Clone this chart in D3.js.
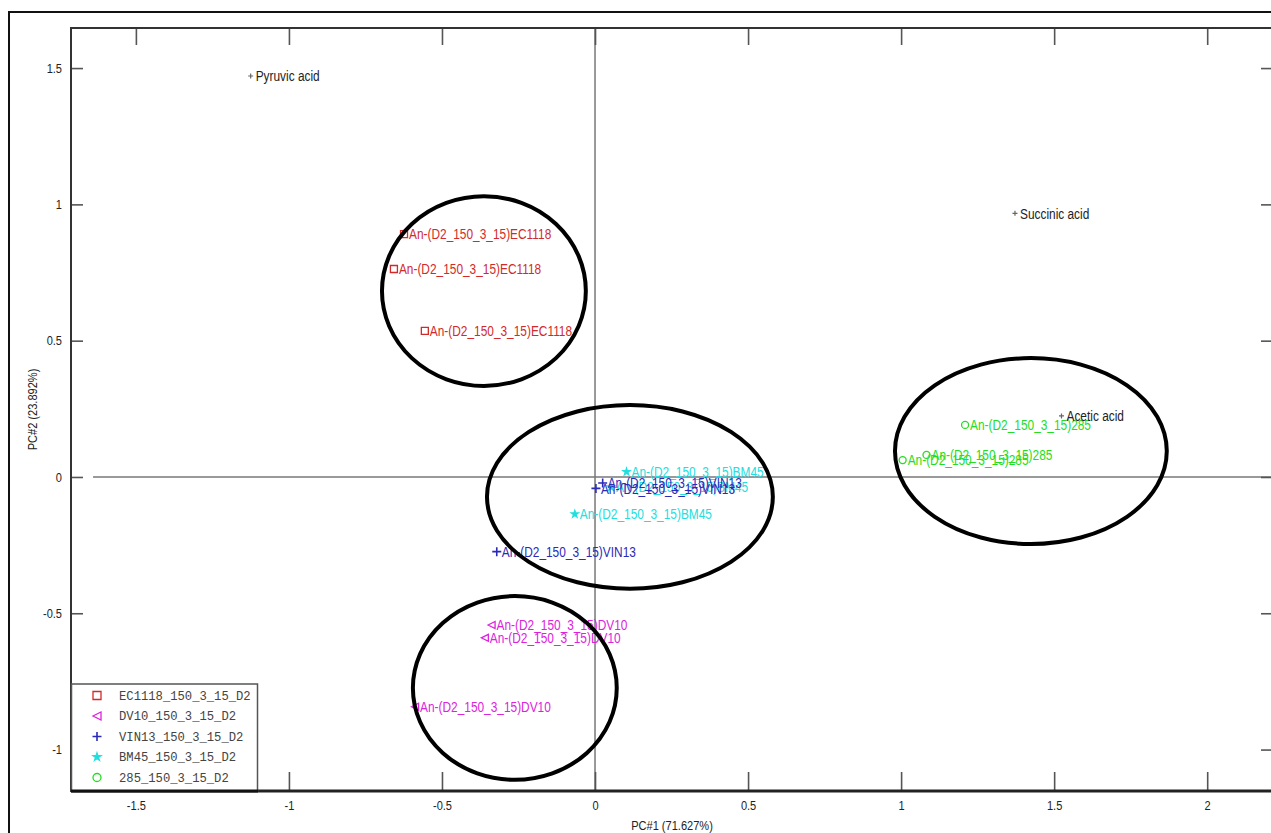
<!DOCTYPE html>
<html><head><meta charset="utf-8">
<script src="https://cdn.jsdelivr.net/npm/d3@7"></script>
<style>
html,body{margin:0;padding:0;background:#fff;}
svg{display:block;}
.tick text{font-family:"Liberation Sans",Arial,sans-serif;font-size:13.5px;fill:#222;}
</style></head><body>
<svg id="chart" width="1271" height="833"></svg>
<script>
// Sample scores on the first two principal components
const strainNames = ["EC1118_150_3_15_D2","DV10_150_3_15_D2","VIN13_150_3_15_D2","BM45_150_3_15_D2","285_150_3_15_D2"];
const sampleLabels = ["An-(D2_150_3_15)EC1118","An-(D2_150_3_15)DV10","An-(D2_150_3_15)VIN13","An-(D2_150_3_15)BM45","An-(D2_150_3_15)285"];
const strainColors = ["#d22a2a","#dd22dd","#2a2ab8","#22dede","#22dd22"];
const strainMarkers = ["square","triangleLeft","plus","star","circle"];

const ec1118PC1 = [-0.624,-0.657,-0.556];
const ec1118PC2 = [0.891,0.763,0.536];
const dv10PC1 = [-0.338,-0.360,-0.588];
const dv10PC2 = [-0.543,-0.590,-0.843];
const vin13PC1 = [-0.321,0.003,0.025];
const vin13PC2 = [-0.274,-0.042,-0.022];
const bm45PC1 = [0.103,0.052,-0.066];
const bm45PC2 = [0.019,-0.037,-0.136];
const s285PC1 = [1.209,1.005,1.083];
const s285PC2 = [0.191,0.062,0.081];

// Variable loadings
const acidNames = ["Pyruvic acid","Succinic acid","Acetic acid"];
const acidPC1 = [-1.125,1.372,1.524];
const acidPC2 = [1.471,0.967,0.224];

// Group outlines: centre and half-axes in PC units
const groupCX = [-0.363,0.114,1.424,-0.262];
const groupCY = [0.682,-0.073,0.095,-0.774];
const groupRX = [0.333,0.467,0.444,0.333];
const groupRY = [0.348,0.337,0.341,0.337];

const pc1Ticks = [-1.5,-1,-0.5,0,0.5,1,1.5,2];
const pc2Ticks = [-1,-0.5,0,0.5,1,1.5];
const pc1Title = "PC#1 (71.627%)";
const pc2Title = "PC#2 (23.892%)";

const scoreSeries = [
  {pc1: ec1118PC1, pc2: ec1118PC2},
  {pc1: dv10PC1, pc2: dv10PC2},
  {pc1: vin13PC1, pc2: vin13PC2},
  {pc1: bm45PC1, pc2: bm45PC2},
  {pc1: s285PC1, pc2: s285PC2}
].map((s, i) => ({
  name: strainNames[i], label: sampleLabels[i], color: strainColors[i], marker: strainMarkers[i],
  points: s.pc1.map((v, j) => ({x: v, y: s.pc2[j]}))
}));

const W = 1271, H = 833;
const plot = {left: 71, top: 28, right: 1273, bottom: 791};
const narrow = 0.82;  // horizontal squeeze for the condensed lettering
const sansFont = '"Liberation Sans",Arial,sans-serif';

const svg = d3.select("#chart");
svg.append("rect").attr("width", W).attr("height", H).attr("fill", "#fff");

// outer figure frame
svg.append("rect").attr("x", 9).attr("y", 12).attr("width", 1400).attr("height", 1000)
  .attr("fill", "none").attr("stroke", "#111").attr("stroke-width", 2);

const x = d3.scaleLinear().domain([-1.712, 2.215]).range([plot.left, plot.right]);
const y = d3.scaleLinear().domain([-1.152, 1.647]).range([plot.bottom, plot.top]);

// zero reference lines
svg.append("line").attr("x1", x(0)).attr("x2", x(0)).attr("y1", plot.top).attr("y2", plot.bottom)
  .attr("stroke", "#777").attr("stroke-width", 1.5);
svg.append("line").attr("x1", x(-1.64)).attr("x2", plot.right).attr("y1", y(0)).attr("y2", y(0))
  .attr("stroke", "#777").attr("stroke-width", 1.5);

// axes with inward ticks
const tickFmt = d => String(d);
const gB = svg.append("g").attr("transform", `translate(0,${plot.bottom})`)
  .call(d3.axisBottom(x).tickValues(pc1Ticks).tickFormat(tickFmt).tickSizeInner(-19).tickSizeOuter(0).tickPadding(9));
const gT = svg.append("g").attr("transform", `translate(0,${plot.top})`)
  .call(d3.axisTop(x).tickValues(pc1Ticks).tickFormat("").tickSizeInner(-17).tickSizeOuter(0));
const gL = svg.append("g").attr("transform", `translate(${plot.left},0)`)
  .call(d3.axisLeft(y).tickValues(pc2Ticks).tickFormat(tickFmt).tickSizeInner(-12).tickSizeOuter(0).tickPadding(9));
const gR = svg.append("g").attr("transform", `translate(${plot.right},0)`)
  .call(d3.axisRight(y).tickValues(pc2Ticks).tickFormat("").tickSizeInner(-12).tickSizeOuter(0));
[gB, gT, gL, gR].forEach(g => {
  g.select(".domain").remove();
  g.selectAll(".tick line").attr("stroke", "#555").attr("stroke-width", 1.6);
});
// condense the tick numerals
gB.selectAll(".tick text").attr("transform", `scale(${narrow},1)`);
gL.selectAll(".tick text").each(function () {
  const t = d3.select(this);
  t.attr("x", +t.attr("x") / narrow).attr("transform", `scale(${narrow},1)`);
});

// plot frame
svg.append("rect").attr("x", plot.left).attr("y", plot.top)
  .attr("width", plot.right - plot.left).attr("height", plot.bottom - plot.top)
  .attr("fill", "none").attr("stroke", "#333").attr("stroke-width", 2);
svg.append("line").attr("x1", plot.left).attr("x2", plot.right).attr("y1", plot.bottom).attr("y2", plot.bottom)
  .attr("stroke", "#222").attr("stroke-width", 3);

// axis titles
svg.append("g").attr("transform", `translate(${(plot.left + plot.right) / 2},830) scale(${narrow},1)`)
  .append("text").attr("text-anchor", "middle").attr("font-family", sansFont)
  .attr("font-size", 13.5).attr("fill", "#222").text(pc1Title);
svg.append("g").attr("transform", `translate(37,${(plot.top + plot.bottom) / 2}) rotate(-90) scale(${narrow},1)`)
  .append("text").attr("text-anchor", "middle").attr("font-family", sansFont)
  .attr("font-size", 13.5).attr("fill", "#222").text(pc2Title);

// marker shapes
function markerPath(type, s) {
  const h = s / 2;
  switch (type) {
    case "square": return `M${-h},${-h}H${h}V${h}H${-h}Z`;
    case "triangleLeft": return `M${-h},0L${h},${-h}L${h},${h}Z`;
    case "plus": return `M${-h},0H${h}M0,${-h}V${h}`;
    case "circle": return d3.arc()({innerRadius: 0, outerRadius: h, startAngle: 0, endAngle: 2 * Math.PI});
    case "star": return d3.symbol(d3.symbolStar, s * s * 0.3)();
  }
}
function drawMarker(g, type, color, s) {
  g.append("path").attr("d", markerPath(type, s))
    .attr("fill", type === "star" ? color : "none")
    .attr("stroke", color).attr("stroke-width", type === "plus" ? 1.6 : 1.3);
}

function narrowText(g, str, color) {
  g.append("g").attr("transform", `translate(5,0) scale(${narrow},1)`)
    .append("text").attr("dy", "0.36em")
    .attr("font-family", sansFont).attr("font-size", 14.5).attr("fill", color)
    .text(str);
}

// draw order keeps the VIN13 labels above BM45
const drawOrder = [0, 1, 3, 2, 4];
drawOrder.forEach(i => {
  const s = scoreSeries[i];
  const g = svg.append("g");
  s.points.forEach(p => {
    const pg = g.append("g").attr("transform", `translate(${x(p.x)},${y(p.y)})`);
    drawMarker(pg, s.marker, s.color, s.marker === "plus" ? 9 : 7);
    narrowText(pg, s.label, s.color);
  });
});

// loadings
acidNames.forEach((name, i) => {
  const pg = svg.append("g").attr("transform", `translate(${x(acidPC1[i])},${y(acidPC2[i])})`);
  pg.append("path").attr("d", markerPath("plus", 5)).attr("stroke", "#666").attr("stroke-width", 1.2);
  narrowText(pg, name, "#222");
});

// group outlines
groupCX.forEach((cx, i) => {
  svg.append("ellipse")
    .attr("cx", x(cx)).attr("cy", y(groupCY[i]))
    .attr("rx", x(cx + groupRX[i]) - x(cx)).attr("ry", y(groupCY[i] - groupRY[i]) - y(groupCY[i]))
    .attr("fill", "none").attr("stroke", "#000").attr("stroke-width", 4);
});

// legend
const leg = svg.append("g");
leg.append("rect").attr("x", plot.left + 0.5).attr("y", 684).attr("width", 186).attr("height", plot.bottom - 684)
  .attr("fill", "#fff").attr("stroke", "#555").attr("stroke-width", 1.5);
svg.append("line").attr("x1", plot.left).attr("x2", plot.left + 187).attr("y1", plot.bottom).attr("y2", plot.bottom)
  .attr("stroke", "#111").attr("stroke-width", 3);
scoreSeries.forEach((s, i) => {
  const row = leg.append("g").attr("transform", `translate(0,${695.5 + i * 20.5})`);
  const mg = row.append("g").attr("transform", "translate(97,0)");
  drawMarker(mg, s.marker, s.color, s.marker === "plus" ? 9 : 8);
  row.append("text").attr("x", 119).attr("dy", "0.35em")
    .attr("font-family", '"Liberation Mono","DejaVu Sans Mono",monospace').attr("font-size", 12.2)
    .attr("fill", "#444").text(s.name);
});
</script>
</body></html>
